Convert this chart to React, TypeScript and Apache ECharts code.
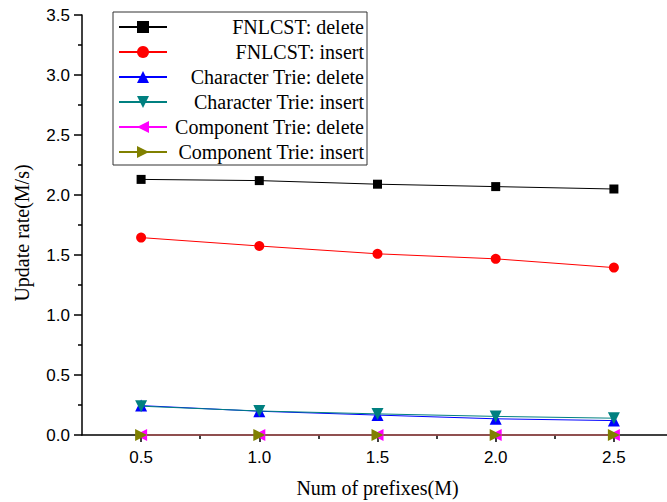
import React, { useEffect, useRef } from "react";
import * as echarts from "echarts";

const xValues = [0.5, 1.0, 1.5, 2.0, 2.5];
const fnlcstDelete = [2.13, 2.12, 2.09, 2.07, 2.05];
const fnlcstInsert = [1.645, 1.575, 1.51, 1.468, 1.395];
const charDelete = [0.245, 0.198, 0.166, 0.135, 0.12];
const charInsert = [0.24, 0.2, 0.176, 0.155, 0.14];
const compDelete = [0.0, 0.0, 0.0, 0.0, 0.0];
const compInsert = [0.0, 0.0, 0.0, 0.0, 0.0];
const xMajorTicks = [0.5, 1.0, 1.5, 2.0, 2.5];
const xMinorTicks = [0.75, 1.25, 1.75, 2.25];

const SERIF = "'Liberation Serif', 'Times New Roman', serif";
const SANS = "'Liberation Sans', Arial, sans-serif";

function pts(ys: number[]) {
  return xValues.map((x, i) => [x, ys[i]]);
}

export default function App() {
  const ref = useRef<HTMLDivElement>(null);
  useEffect(() => {
    if (!ref.current) return;
    const chart = echarts.init(ref.current, null, { renderer: "svg" });
    const mk = (
      name: string,
      data: number[],
      color: string,
      symbol: string,
      size: number,
      rotate = 0
    ) => ({
      name,
      type: "line",
      data: pts(data),
      symbol,
      symbolSize: size,
      symbolRotate: rotate,
      showAllSymbol: true,
      clip: false,
      lineStyle: { color, width: 1 },
      itemStyle: { color },
      emphasis: { disabled: true },
    });
    chart.setOption({
      animation: false,
      backgroundColor: "#ffffff",
      grid: {
        left: 82,
        top: 15,
        width: 591,
        height: 420,
        containLabel: false,
        outerBoundsMode: "none",
      },
      legend: {
        left: 113,
        top: 12,
        orient: "vertical",
        padding: [5, 3, 3, 5],
        itemGap: 5,
        itemWidth: 48,
        itemHeight: 15,
        borderColor: "#333",
        borderWidth: 1,
        textStyle: {
          fontFamily: SERIF,
          fontSize: 20,
          color: "#000",
          lineHeight: 20,
          rich: {
            r: {
              width: 192,
              align: "right",
              fontFamily: SERIF,
              fontSize: 20,
              lineHeight: 20,
              color: "#000",
            },
          },
        },
        formatter: (name: string) => `{r|${name}}`,
      },
      xAxis: [
        {
          type: "value",
          min: 0.25,
          max: 2.75,
          name: "Num of prefixes(M)",
          nameLocation: "middle",
          nameGap: 43,
          nameTextStyle: { fontFamily: SERIF, fontSize: 20, color: "#000" },
          position: "bottom",
          axisLine: { onZero: false, lineStyle: { color: "#000", width: 1.5 } },
          axisTick: {
            show: true,
            length: 7,
            customValues: xMajorTicks,
            lineStyle: { color: "#000", width: 1.5 },
          },
          axisLabel: {
            customValues: xMajorTicks,
            margin: 14,
            fontFamily: SANS,
            fontSize: 17,
            color: "#000",
            formatter: (v: number) => v.toFixed(1),
          },
          splitLine: { show: false },
        },
        {
          type: "value",
          min: 0.25,
          max: 2.75,
          position: "bottom",
          axisLine: { show: false, onZero: false },
          axisTick: {
            show: true,
            length: 4,
            customValues: xMinorTicks,
            lineStyle: { color: "#000", width: 1.5 },
          },
          axisLabel: { show: false },
          splitLine: { show: false },
        },
      ],
      yAxis: {
        type: "value",
        min: 0,
        max: 3.5,
        interval: 0.5,
        name: "Update rate(M/s)",
        nameLocation: "middle",
        nameGap: 50,
        nameTextStyle: {
          fontFamily: SERIF,
          fontSize: 20,
          color: "#000",
          padding: [0, 16, 0, 0],
        },
        axisLine: { show: true, onZero: false, lineStyle: { color: "#000", width: 1.5 } },
        axisTick: { show: true, length: 8, lineStyle: { color: "#000", width: 1.5 } },
        minorTick: { show: true, splitNumber: 2, length: 4, lineStyle: { color: "#000", width: 1.5 } },
        axisLabel: {
          margin: 12,
          fontFamily: SANS,
          fontSize: 17,
          color: "#000",
          formatter: (v: number) => v.toFixed(1),
        },
        splitLine: { show: false },
      },
      series: [
        mk("FNLCST: delete", fnlcstDelete, "#000000", "rect", 9),
        mk("FNLCST: insert", fnlcstInsert, "#ff0000", "circle", 10),
        mk("Character Trie: delete", charDelete, "#0000ff", "triangle", 12),
        mk("Character Trie: insert", charInsert, "#008080", "triangle", 12, 180),
        mk("Component Trie: delete", compDelete, "#ff00ff", "triangle", 12, 90),
        mk("Component Trie: insert", compInsert, "#808000", "triangle", 12, -90),
      ],
    });
    return () => chart.dispose();
  }, []);
  return (
    <div
      ref={ref}
      style={{ position: "absolute", left: 0, top: 0, width: 667, height: 502, overflow: "hidden" }}
    />
  );
}
